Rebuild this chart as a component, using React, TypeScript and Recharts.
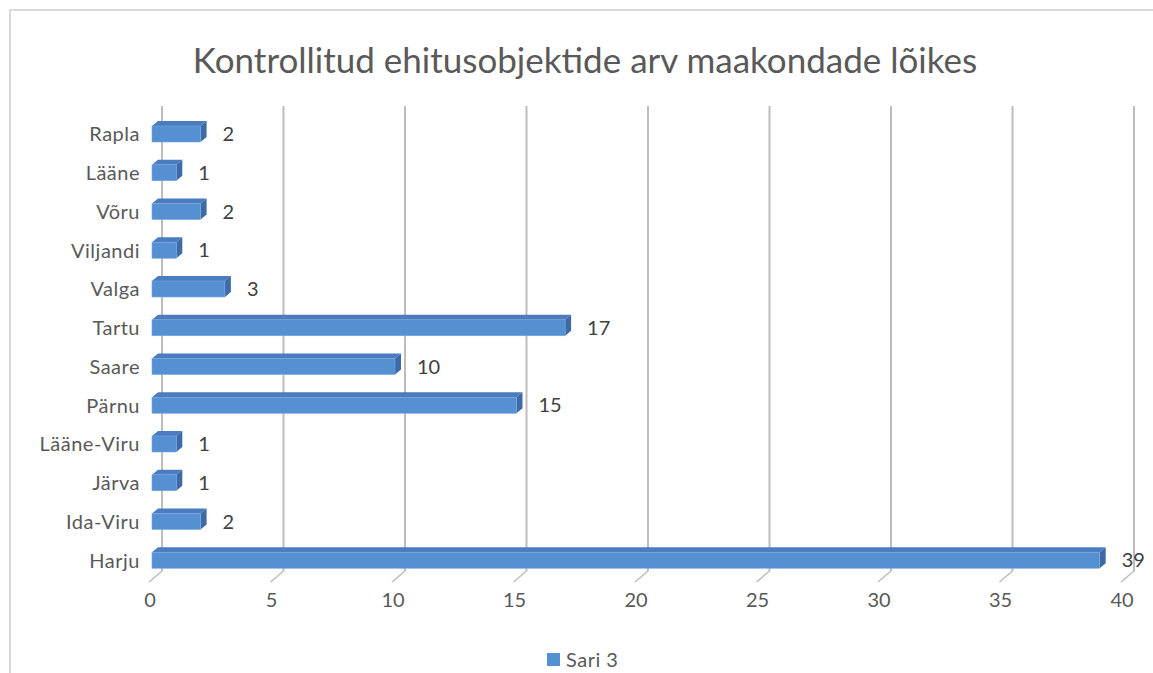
import React from "react";
import { BarChart, Bar, XAxis, YAxis, CartesianGrid, LabelList, Legend } from "recharts";

const categories = ["Rapla", "Lääne", "Võru", "Viljandi", "Valga", "Tartu", "Saare", "Pärnu", "Lääne-Viru", "Järva", "Ida-Viru", "Harju"];
const values = [2, 1, 2, 1, 3, 17, 10, 15, 1, 1, 2, 39];
const xTicks = [0, 5, 10, 15, 20, 25, 30, 35, 40];
const seriesName = "Sari 3";

const W = 1153;
const H = 673;
const PLOT_LEFT = 152;
const PLOT_TOP = 115;
const PLOT_BOTTOM = 580;
const LEGEND_H = 24;
const DEPTH_X = 10;
const DEPTH_Y = 9;

const FRONT = "#5590d3";
const TOP = "#4a7cbf";
const SIDE = "#3e6ba8";
const TEXT = "#404040";
const AXIS_TEXT = "#595959";

const chartData = categories.map((name, i) => ({ name, value: values[i] }));

const Bar3D = (props: any) => {
  const { x, y, width, height } = props;
  const dx = 6;
  const dy = 5;
  return (
    <g>
      <polygon points={`${x},${y} ${x + dx},${y - dy} ${x + width + dx},${y - dy} ${x + width},${y}`} fill={TOP} />
      <polygon
        points={`${x + width},${y} ${x + width + dx},${y - dy} ${x + width + dx},${y + height - dy} ${x + width},${y + height}`}
        fill={SIDE}
      />
      <rect x={x} y={y} width={width} height={height} fill={FRONT} stroke="#7aa6dc" strokeWidth={0.6} />
    </g>
  );
};

const gridLine = (props: any) => {
  const { x1, y1, y2, index } = props;
  return (
    <g key={`g-${index}`}>
      <line x1={x1 + DEPTH_X} y1={y1 - DEPTH_Y} x2={x1 + DEPTH_X} y2={y2 - DEPTH_Y} stroke="#bdbdbd" strokeWidth={2} />
      <line x1={x1 + DEPTH_X} y1={y2 - DEPTH_Y} x2={x1 - 3} y2={y2 + 2} stroke="#bdbdbd" strokeWidth={1.5} />
    </g>
  );
};

const XTick = (props: any) => {
  const { x, payload } = props;
  return (
    <text x={x - 2} y={607} textAnchor="middle" fontSize={20} fill={AXIS_TEXT}>
      {payload.value}
    </text>
  );
};

const YTick = (props: any) => {
  const { y, payload } = props;
  return (
    <text x={PLOT_LEFT - 12} y={y + 7} textAnchor="end" fontSize={20} letterSpacing={0.5} fill={AXIS_TEXT}>
      {payload.value}
    </text>
  );
};

const LegendContent = () => (
  <div style={{ position: "relative", width: W, height: LEGEND_H }}>
    <div style={{ position: "absolute", left: 547, top: 5, width: 13, height: 13, background: FRONT }} />
    <div style={{ position: "absolute", left: 566, top: 0, fontSize: 20, letterSpacing: 0.5, color: AXIS_TEXT, lineHeight: "22px" }}>
      {seriesName}
    </div>
  </div>
);

export default function App() {
  return (
    <div
      style={{
        position: "absolute",
        left: 0,
        top: 0,
        width: W,
        height: H,
        overflow: "hidden",
        background: "#fff",
        fontFamily: "Lato, 'Open Sans', sans-serif",
      }}
    >
      <div
        style={{
          position: "absolute",
          left: 9,
          top: 9,
          width: W + 40,
          height: H + 40,
          border: "2px solid #d9d9d9",
          boxSizing: "border-box",
        }}
      />
      <div
        style={{
          position: "absolute",
          left: 0,
          top: 38,
          width: 1170,
          textAlign: "center",
          fontSize: 35,
          color: AXIS_TEXT,
        }}
      >
        Kontrollitud ehitusobjektide arv maakondade lõikes
      </div>
      <div style={{ position: "absolute", left: 0, top: 0 }}>
        <BarChart
          width={W}
          height={H}
          data={chartData}
          layout="vertical"
          barSize={16}
          margin={{ top: PLOT_TOP, right: 29, bottom: H - PLOT_BOTTOM - 40 - LEGEND_H, left: 0 }}
        >
          <CartesianGrid horizontal={false} vertical={gridLine} />
          <XAxis
            type="number"
            domain={[0, 40]}
            ticks={xTicks}
            axisLine={false}
            tickLine={false}
            height={40}
            tick={<XTick />}
            interval={0}
          />
          <YAxis
            type="category"
            dataKey="name"
            width={PLOT_LEFT}
            axisLine={false}
            tickLine={false}
            tick={<YTick />}
            interval={0}
          />
          <Legend
            verticalAlign="bottom"
            height={LEGEND_H}
            content={<LegendContent />}
            wrapperStyle={{ position: "absolute", left: 0, top: 648, width: W, height: LEGEND_H }}
          />
          <Bar dataKey="value" name={seriesName} shape={<Bar3D />} isAnimationActive={false}>
            <LabelList dataKey="value" position="right" offset={22} fontSize={20} fill={TEXT} />
          </Bar>
        </BarChart>
      </div>
    </div>
  );
}
